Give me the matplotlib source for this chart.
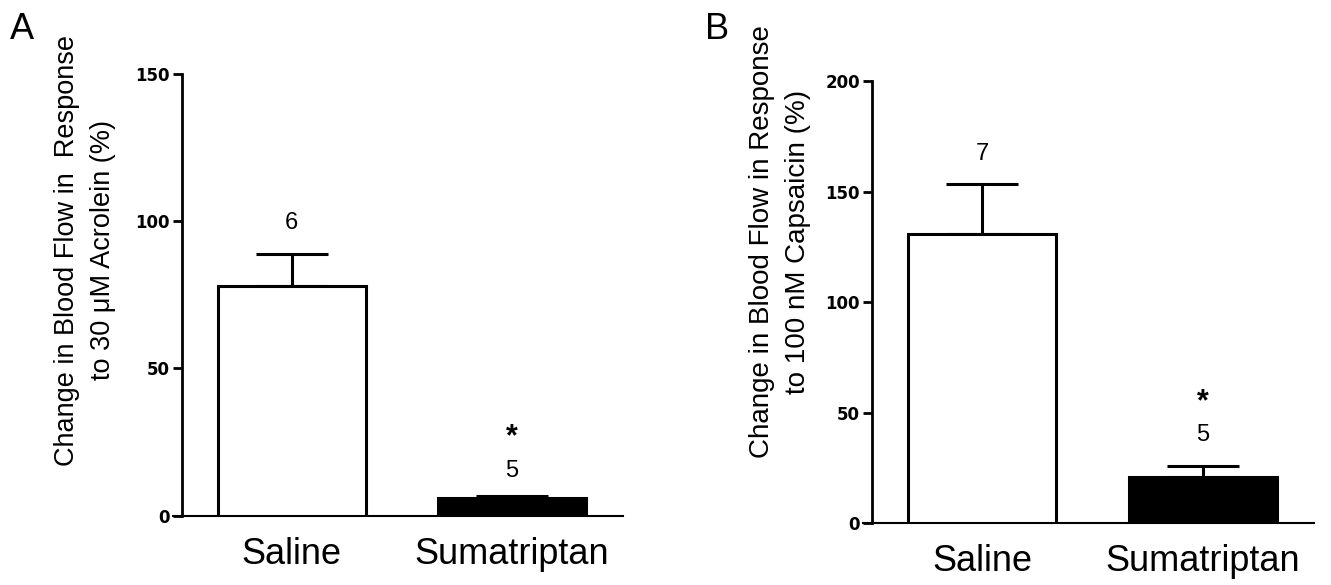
import matplotlib
matplotlib.use("Agg")
from matplotlib import pyplot as plt

plt.rcParams['font.family'] = ['Liberation Sans', 'DejaVu Sans']

groups = ["Saline", "Sumatriptan"]

# panel A: acrolein
acro_mean = [78.1, 5.9]
acro_sem = [10.9, 0.8]
acro_n = [6, 5]
acro_sig = ["", "*"]

# panel B: capsaicin
caps_mean = [130.6, 20.8]
caps_sem = [22.6, 5.1]
caps_n = [7, 5]
caps_sig = ["", "*"]

acro_label = "Change in Blood Flow in  Response\nto 30 \u03bcM Acrolein (%)"
caps_label = "Change in Blood Flow in Response\nto 100 nM Capsaicin (%)"

W, H = 1331, 585
fig = plt.figure(figsize=(W / 100, H / 100), dpi=100)


def panel(rect_px, mean, sem, n, sig, ymax, n_off):
    x0, x1, ytop, ybot = rect_px
    ax = fig.add_axes([x0 / W, 1 - ybot / H, (x1 - x0) / W, (ybot - ytop) / H])
    # spine position first: it resets the ticks
    ax.spines["top"].set_visible(False)
    ax.spines["right"].set_visible(False)
    ax.spines["left"].set_position(("data", -0.5))
    ax.spines["left"].set_linewidth(2)
    ax.spines["bottom"].set_linewidth(1.5)
    ax.patch.set_visible(False)

    xs = list(range(len(groups)))
    ax.bar(xs, mean, width=0.67, color=["white", "black"], edgecolor="black",
           linewidth=2.2, zorder=3)
    ax.errorbar(xs, mean, yerr=[[0] * len(sem), sem], fmt="none", ecolor="black",
                elinewidth=2.2, capsize=26, capthick=2.2, zorder=2)
    for i in xs:
        top = mean[i] + sem[i]
        ax.annotate(str(n[i]), (i, top), xytext=(0, n_off[i]), textcoords="offset points",
                    ha="center", va="center", fontsize=17)
        if sig[i]:
            ax.annotate(sig[i], (i, top), xytext=(0, n_off[i] + 24), textcoords="offset points",
                        ha="center", va="center", fontsize=22, fontweight="bold")
    ax.set_xlim(-0.54, 1.505)
    ax.set_ylim(0, ymax)
    yt = list(range(0, ymax + 1, 50))
    ax.set_yticks(yt)
    ax.set_xticks(xs)
    ax.tick_params(axis="x", length=0, pad=15)
    ax.tick_params(axis="y", direction="out", length=6.5, width=2, pad=2)
    ax.set_yticklabels([str(v) for v in yt], fontsize=12, fontweight="bold",
                       fontfamily="DejaVu Sans")
    ax.set_xticklabels(groups, fontsize=26)
    return ax


panel((173, 623, 74, 515.7), acro_mean, acro_sem, acro_n, acro_sig, 150, [22, 18])
panel((863, 1314, 81, 523.3), caps_mean, caps_sem, caps_n, caps_sig, 200, [22, 22])

fig.text(85 / W, 1 - 250 / H, acro_label, rotation=90, ha="center", va="center",
         multialignment="center", fontsize=19.5, linespacing=1.5)
fig.text(780 / W, 1 - 242 / H, caps_label, rotation=90, ha="center", va="center",
         multialignment="center", fontsize=20, linespacing=1.5)

fig.text(10 / W, 1 - 12 / H, "A", ha="left", va="top", fontsize=26)
fig.text(705 / W, 1 - 12 / H, "B", ha="left", va="top", fontsize=26)

fig.savefig("out.png", dpi=100)
